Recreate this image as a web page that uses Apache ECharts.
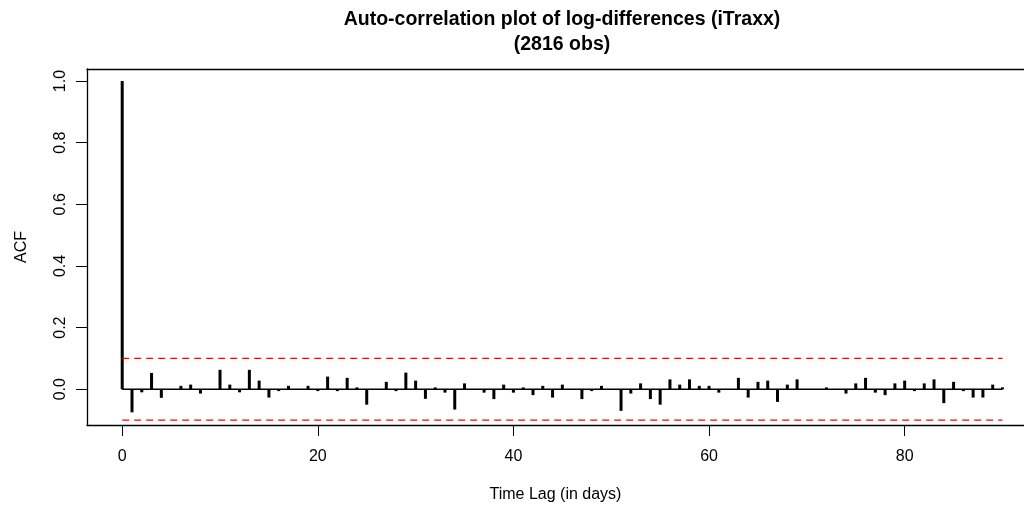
<!DOCTYPE html>
<html>
<head>
<meta charset="utf-8">
<script src="https://cdn.jsdelivr.net/npm/echarts@6/dist/echarts.min.js"></script>
<style>
html,body{margin:0;padding:0;background:#fff;}
#chart{width:1024px;height:506px;}
</style>
</head>
<body>
<div id="chart"></div>
<script>
// Data
const lags = [];
for (let i = 0; i <= 90; i++) lags.push(i);
const acfValues = [
  1.0, -0.075, -0.010, 0.053, -0.028, 0.001, 0.011, 0.015, -0.014, 0.001,
  0.063, 0.015, -0.010, 0.063, 0.028, -0.027, -0.006, 0.011, 0.001, 0.011,
  -0.006, 0.041, -0.006, 0.037, 0.006, -0.050, 0.001, 0.024, -0.006, 0.054,
  0.028, -0.031, 0.006, -0.011, -0.066, 0.019, 0.001, -0.011, -0.032, 0.015,
  -0.011, 0.006, -0.019, 0.011, -0.027, 0.015, 0.001, -0.032, -0.006, 0.011,
  0.001, -0.070, -0.014, 0.019, -0.032, -0.050, 0.032, 0.015, 0.032, 0.011,
  0.011, -0.011, 0.001, 0.037, -0.027, 0.024, 0.028, -0.041, 0.015, 0.032,
  0.001, 0.001, 0.006, 0.001, -0.014, 0.019, 0.037, -0.011, -0.019, 0.019,
  0.028, -0.006, 0.019, 0.032, -0.045, 0.024, -0.006, -0.027, -0.027, 0.015,
  0.006
];
const confLimit = 0.1;
const xTicks = [0, 20, 40, 60, 80];
const yTicks = [0.0, 0.2, 0.4, 0.6, 0.8, 1.0];
const titleText = 'Auto-correlation plot of log-differences (iTraxx)\n(2816 obs)';
const xName = 'Time Lag (in days)';
const yName = 'ACF';

const font = "'Liberation Sans', Arial, sans-serif";
const chart = echarts.init(document.getElementById('chart'), null, {renderer: 'canvas'});
const lastLag = lags[lags.length - 1];
const boxLine = {show: true, onZero: false, lineStyle: {color: '#000', width: 1.3}};

chart.setOption({
  animation: false,
  backgroundColor: '#fff',
  title: {
    text: titleText,
    left: 562, top: 7, padding: 0,
    textAlign: 'center',
    textStyle: {fontFamily: font, fontSize: 19.5, fontWeight: 'bold', color: '#000', lineHeight: 25}
  },
  grid: {
    left: 87, right: 0, top: 69, bottom: 81,
    outerBoundsMode: 'none',
    containLabel: false,
    show: false
  },
  xAxis: [{
    type: 'value', min: -3.6, max: 92.2, position: 'bottom',
    name: xName, nameLocation: 'middle', nameGap: 62,
    nameTextStyle: {fontFamily: font, fontSize: 16, color: '#000'},
    axisLine: boxLine,
    splitLine: {show: false},
    axisTick: {show: true, length: 11, customValues: xTicks, lineStyle: {color: '#000', width: 1}},
    axisLabel: {customValues: xTicks, fontFamily: font, fontSize: 16, color: '#000', margin: 24,
      formatter: v => String(v)}
  }, {
    type: 'value', min: -3.6, max: 92.2, position: 'top',
    axisLine: boxLine,
    splitLine: {show: false},
    axisTick: {show: false},
    axisLabel: {show: false}
  }],
  yAxis: {
    type: 'value', min: -0.116, max: 1.039,
    name: yName, nameLocation: 'middle', nameGap: 57, nameRotate: 90,
    nameTextStyle: {fontFamily: font, fontSize: 16, color: '#000'},
    axisLine: boxLine,
    splitLine: {show: false},
    axisTick: {show: true, length: 11, customValues: yTicks, lineStyle: {color: '#000', width: 1}},
    axisLabel: {customValues: yTicks, fontFamily: font, fontSize: 16, color: '#000', rotate: 90, margin: 18,
      formatter: v => v.toFixed(1)}
  },
  series: [
    {
      type: 'bar',
      barWidth: 3,
      itemStyle: {color: '#000'},
      data: lags.map((l, i) => [l, acfValues[i]]),
      z: 3
    },
    {
      type: 'line', symbol: 'none',
      lineStyle: {color: '#000', width: 1.5},
      data: [[lags[0], 0], [lastLag, 0]],
      z: 4
    },
    {
      type: 'line', symbol: 'none',
      lineStyle: {color: '#ff0000', width: 1.3, type: [7, 5]},
      data: [[lags[0], confLimit], [lastLag, confLimit]]
    },
    {
      type: 'line', symbol: 'none',
      lineStyle: {color: '#ff0000', width: 1.3, type: [7, 5]},
      data: [[lags[0], -confLimit], [lastLag, -confLimit]]
    }
  ]
});
</script>
</body>
</html>
